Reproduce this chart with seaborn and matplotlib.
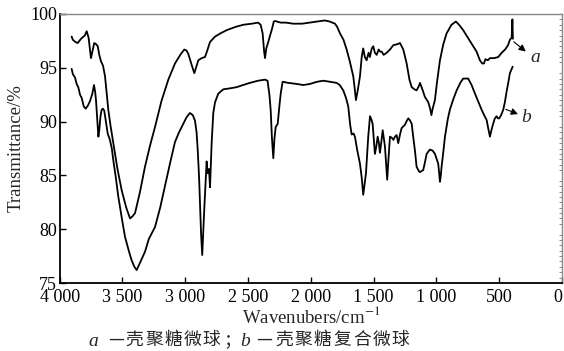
import numpy as np
import pandas as pd
import matplotlib
matplotlib.use("Agg")
import matplotlib.pyplot as plt
from matplotlib.ticker import MultipleLocator, FixedLocator
import seaborn as sns

# ---------------- data ----------------
a_x = [3905, 3895, 3875, 3857, 3830, 3800, 3785, 3770, 3751, 3738, 3725, 3710, 3697, 3685, 3671,
       3655, 3639, 3625, 3613, 3595, 3573, 3540, 3506, 3470, 3440, 3420, 3400, 3360, 3321, 3280,
       3241, 3190, 3135, 3082, 3040, 3008, 2990, 2976, 2950, 2928, 2912, 2896, 2870, 2843, 2825,
       2803, 2763, 2720, 2670, 2600, 2538, 2470, 2420, 2400, 2384, 2372, 2365, 2355, 2339, 2325,
       2312, 2295, 2286, 2240, 2200, 2140, 2070, 2007, 1950, 1888, 1850, 1808, 1790, 1768, 1740,
       1715, 1690, 1662, 1650, 1641, 1628, 1609, 1595, 1583, 1570, 1556, 1540, 1530, 1515, 1503,
       1490, 1476, 1460, 1448, 1436, 1420, 1396, 1370, 1343, 1310, 1290, 1264, 1237, 1215, 1197,
       1175, 1158, 1140, 1131, 1115, 1092, 1065, 1050, 1040, 1030, 1012, 995, 972, 945, 919,
       880, 845, 820, 787, 750, 707, 680, 654, 635, 622, 610, 590, 574, 540, 508,
       480, 453, 430, 415, 401, 395, 391]
a_y = [97.9, 97.6, 97.4, 97.3, 97.7, 98.0, 98.4, 97.8, 95.9, 96.6, 97.3, 97.2, 97.0, 96.2, 95.6,
       95.2, 94.2, 92.5, 91.1, 89.6, 88.0, 85.6, 83.6, 82.0, 81.0, 81.2, 81.5, 83.5, 85.8, 87.8,
       89.5, 91.9, 93.9, 95.4, 96.2, 96.7, 96.6, 96.3, 95.3, 94.5, 95.1, 95.7, 95.9, 96.0, 96.6,
       97.4, 97.9, 98.2, 98.5, 98.8, 99.0, 99.1, 99.2, 99.0, 98.2, 96.5, 95.9, 96.8, 97.4, 98.0,
       98.5, 99.3, 99.35, 99.2, 99.2, 99.1, 99.1, 99.2, 99.3, 99.4, 99.3, 99.1, 98.8, 98.2, 97.6,
       96.7, 95.6, 94.2, 93.0, 92.0, 92.8, 94.2, 96.0, 96.8, 96.0, 95.7, 96.4, 96.0, 96.8, 97.0,
       96.4, 96.2, 96.7, 96.5, 96.5, 96.2, 96.4, 96.7, 97.1, 97.2, 97.3, 96.7, 95.4, 93.9, 93.2,
       93.0, 92.9, 93.3, 93.6, 93.1, 92.3, 91.8, 91.2, 90.6, 91.2, 92.0, 93.7, 95.7, 97.2, 98.2,
       99.0, 99.3, 99.0, 98.5, 97.8, 97.0, 96.5, 95.7, 95.4, 95.4, 95.8, 95.7, 95.9, 95.9, 96.0,
       96.4, 96.7, 97.1, 97.6, 97.8, 99.5, 97.7]

b_x = [3905, 3895, 3878, 3865, 3852, 3838, 3825, 3808, 3793, 3775, 3759, 3740, 3727, 3718, 3711,
       3700, 3692, 3685, 3675, 3666, 3655, 3645, 3630, 3618, 3600, 3585, 3573, 3553, 3533, 3505,
       3480, 3450, 3427, 3405, 3387, 3360, 3321, 3290, 3241, 3200, 3162, 3120, 3082, 3050, 3016,
       2990, 2963, 2940, 2923, 2910, 2901, 2890, 2883, 2874, 2865, 2858, 2849, 2838, 2830, 2822,
       2811, 2803, 2790, 2777, 2763, 2737, 2697, 2640, 2591, 2540, 2485, 2420, 2365, 2345, 2330,
       2320, 2310, 2299, 2290, 2280, 2264, 2250, 2240, 2225, 2180, 2113, 2060, 2007, 1950, 1901,
       1850, 1795, 1770, 1742, 1720, 1702, 1688, 1675, 1660, 1649, 1630, 1609, 1595, 1583, 1572,
       1561, 1550, 1543, 1529, 1518, 1508, 1498, 1490, 1480, 1468, 1458, 1450, 1440, 1428, 1418,
       1410, 1400, 1392, 1382, 1370, 1355, 1343, 1330, 1317, 1304, 1290, 1277, 1251, 1235, 1224,
       1210, 1197, 1185, 1170, 1158, 1140, 1131, 1105, 1090, 1078, 1052, 1030, 1012, 995, 986,
       978, 972, 965, 959, 945, 932, 910, 893, 865, 839, 810, 787, 767, 747, 720,
       693, 665, 640, 620, 600, 588, 574, 560, 548, 535, 521, 510, 500, 485, 468,
       455, 441, 428, 415, 400, 393]
b_y = [94.9, 94.4, 94.1, 93.5, 93.2, 92.5, 92.2, 91.4, 91.2, 91.5, 91.9, 92.6, 93.4, 92.8, 92.0,
       90.0, 88.6, 89.2, 90.5, 91.1, 91.2, 91.0, 89.8, 88.9, 88.3, 87.5, 86.4, 84.8, 83.0, 81.0,
       79.3, 78.0, 77.1, 76.5, 76.2, 76.9, 77.9, 79.1, 80.2, 82.0, 84.0, 86.2, 88.1, 89.0, 89.8,
       90.4, 90.8, 90.6, 90.1, 89.0, 87.4, 84.8, 82.4, 79.5, 77.6, 79.5, 81.8, 84.5, 86.3, 85.2,
       85.6, 83.9, 88.0, 90.8, 91.8, 92.6, 93.0, 93.1, 93.2, 93.4, 93.6, 93.8, 93.9, 93.8, 92.5,
       91.1, 88.5, 86.6, 88.4, 89.5, 89.8, 91.5, 92.6, 93.7, 93.6, 93.5, 93.4, 93.5, 93.7, 93.8,
       93.7, 93.6, 93.4, 92.9, 92.2, 91.4, 89.8, 88.8, 88.9, 88.6, 87.3, 86.1, 84.8, 83.2, 84.2,
       85.2, 87.2, 88.6, 90.5, 90.2, 89.8, 88.2, 87.0, 87.6, 88.6, 88.0, 87.1, 88.0, 89.2, 88.4,
       87.7, 86.0, 84.6, 86.5, 88.6, 88.5, 88.3, 88.6, 88.75, 88.0, 88.8, 89.4, 89.7, 90.1, 90.3,
       90.1, 89.8, 88.6, 87.2, 85.8, 85.4, 85.3, 85.5, 86.3, 87.0, 87.4, 87.3, 87.0, 86.4, 86.1,
       85.2, 84.4, 85.0, 85.8, 87.2, 88.6, 90.2, 91.1, 92.1, 92.9, 93.6, 94.0, 94.0, 94.0, 93.4,
       92.6, 91.8, 91.1, 90.6, 90.15, 89.4, 88.6, 89.3, 89.8, 90.3, 90.5, 90.3, 90.3, 90.6, 91.1,
       91.8, 92.8, 93.6, 94.5, 94.9, 95.1]

x_ticks = [4000, 3500, 3000, 2500, 2000, 1500, 1000, 500, 0]
x_tick_labels = ["4 000", "3 500", "3 000", "2 500", "2 000", "1 500", "1 000", "500", "0"]
y_ticks = [75, 80, 85, 90, 95, 100]
x_label = "Wavenubers/cm$^{-1}$"
y_label = "Transmittance/%"
series_names = ["a", "b"]
caption_a = "—壳聚糖微球；"
caption_b = "—壳聚糖复合微球"

# ---------------- figure ----------------
sns.set_theme(style="ticks")
plt.rcParams["font.family"] = ["Liberation Serif", "Noto Sans CJK SC"]
plt.rcParams["mathtext.fontset"] = "stix"

W, H = 564, 351
fig = plt.figure(figsize=(W / 100, H / 100), dpi=100)
ax = fig.add_axes([59.7 / W, 1 - 283 / H, (562 - 59.7) / W, (283 - 14) / H])

df = pd.concat([
    pd.DataFrame({"wn": a_x, "T": a_y, "s": series_names[0]}),
    pd.DataFrame({"wn": b_x, "T": b_y, "s": series_names[1]}),
])
sns.lineplot(data=df, x="wn", y="T", units="s", estimator=None, sort=False,
             color="black", lw=1.3, ax=ax, legend=False)

ax.set_xlim(4000, 0)
ax.set_ylim(75, 100)
ax.xaxis.set_major_locator(FixedLocator(x_ticks))
ax.set_xticklabels(x_tick_labels)
ax.set_yticks(y_ticks)
ax.yaxis.set_minor_locator(MultipleLocator(0.5))

ax.tick_params(axis="both", which="major", direction="in", length=4, width=1,
               labelsize=13, colors="black", pad=2)
ax.tick_params(axis="y", which="minor", left=False, right=True, direction="in",
               length=2, width=0.6, color="#777777")
ax.tick_params(axis="x", which="major", pad=4)
ax.get_xticklabels()[-1].set_ha("right")

for side in ["left", "bottom"]:
    ax.spines[side].set_color("black")
    ax.spines[side].set_linewidth(1.3)
for side in ["top", "right"]:
    ax.spines[side].set_visible(True)
    ax.spines[side].set_color("#888888")
    ax.spines[side].set_linewidth(1.0)

ax.set_xlabel(x_label, fontsize=13.5, labelpad=0)
ax.set_ylabel(y_label, fontsize=13.5, labelpad=4)

# arrows and series labels
ax.annotate("", xy=(271, 96.35), xytext=(401, 97.58),
            arrowprops=dict(arrowstyle="-|>", color="black", lw=0.8, mutation_scale=10))
ax.annotate("", xy=(330, 90.6), xytext=(468, 91.24),
            arrowprops=dict(arrowstyle="-|>", color="black", lw=0.8, mutation_scale=10))
ax.text(216, 96.0, series_names[0], fontsize=14, style="italic", ha="center", va="center")
ax.text(282, 90.4, series_names[1], fontsize=14, style="italic", ha="center", va="center")

# caption (letter-spaced like the reference)
def fx(px):
    return px / W

def fy(py):
    return 1 - py / H

fig.text(fx(93), fy(346.5), series_names[0], fontsize=14, style="italic", ha="center",
         va="baseline", family="Liberation Serif")
fig.text(fx(245), fy(346.5), series_names[1], fontsize=14, style="italic", ha="center",
         va="baseline", family="Liberation Serif")
centers_a = [116, 134.5, 154.5, 173.3, 192.3, 211.7, 232]
centers_b = [264, 284, 303.3, 322.3, 342.3, 361.7, 381.7, 400.5]
for ch, cx in zip(caption_a, centers_a):
    fig.text(fx(cx), fy(340), ch, fontsize=12.8, ha="center", va="center",
             family=["Noto Sans CJK SC"])
for ch, cx in zip(caption_b, centers_b):
    fig.text(fx(cx), fy(340), ch, fontsize=12.8, ha="center", va="center",
             family=["Noto Sans CJK SC"])

fig.savefig("out.png", dpi=100)
